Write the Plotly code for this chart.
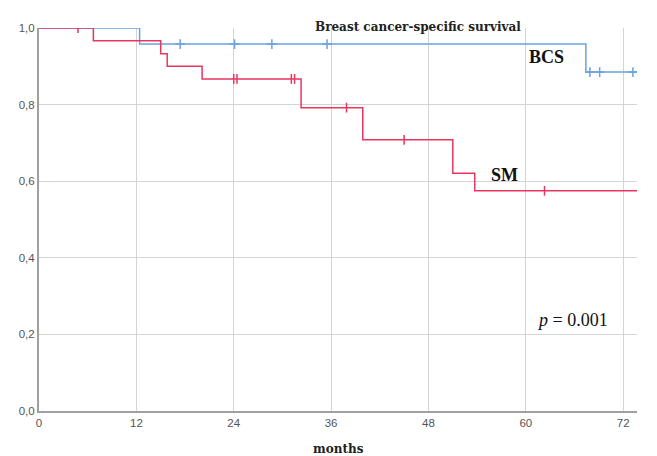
import plotly.graph_objects as go
import numpy as np

# Kaplan-Meier step data (time in months, survival probability)
bcs_times = [0, 12.4, 67.4, 73.7]
bcs_surv = [1.0, 0.958, 0.885, 0.885]
bcs_censor = [17.4, 24.1, 28.7, 35.5, 67.9, 69.1, 73.2]

sm_times = [0, 6.7, 15.0, 15.8, 20.1, 32.3, 39.9, 51.0, 53.7, 73.7]
sm_surv = [1.0, 0.967, 0.933, 0.900, 0.867, 0.792, 0.708, 0.621, 0.575, 0.575]
sm_censor = [4.8, 24.0, 24.4, 31.1, 31.5, 37.9, 45.0, 62.3]

x_ticks = [0, 12, 24, 36, 48, 60, 72]
y_ticks = [0.0, 0.2, 0.4, 0.6, 0.8, 1.0]
y_tick_labels = ["0,0", "0,2", "0,4", "0,6", "0,8", "1,0"]

BLUE = "#6aa2e0"
RED = "#e8365f"


def surv_at(times, surv, t):
    idx = np.searchsorted(np.array(times), t, side="right") - 1
    return surv[max(idx, 0)]


fig = go.Figure()

fig.add_trace(go.Scatter(x=bcs_times, y=bcs_surv, mode="lines",
                         line=dict(color=BLUE, width=1.5, shape="hv"),
                         name="BCS", showlegend=False))
fig.add_trace(go.Scatter(x=sm_times, y=sm_surv, mode="lines",
                         line=dict(color=RED, width=1.5, shape="hv"),
                         name="SM", showlegend=False))

fig.add_trace(go.Scatter(x=bcs_censor, y=[surv_at(bcs_times, bcs_surv, t) for t in bcs_censor],
                         mode="markers",
                         marker=dict(symbol="cross-thin", size=7,
                                     line=dict(color=BLUE, width=1.5)),
                         showlegend=False))
fig.add_trace(go.Scatter(x=sm_censor, y=[surv_at(sm_times, sm_surv, t) for t in sm_censor],
                         mode="markers",
                         marker=dict(symbol="line-ns", size=7,
                                     line=dict(color=RED, width=1.5)),
                         showlegend=False))

fig.update_layout(
    width=657, height=456,
    margin=dict(l=39, r=20, t=28, b=45),
    plot_bgcolor="white", paper_bgcolor="white",
    xaxis=dict(range=[0, 73.7], tickvals=x_ticks, ticktext=[str(v) for v in x_ticks],
               showgrid=True, gridcolor="#d4d4d4", gridwidth=1,
               showline=True, linecolor="#a0a0a0", linewidth=2,
               zeroline=False, ticks="", ticklen=0, automargin=False,
               tickfont=dict(family="Liberation Sans", size=11.5, color="#555555")),
    yaxis=dict(range=[0, 1.0], tickvals=y_ticks, ticktext=y_tick_labels,
               showgrid=True, gridcolor="#d4d4d4", gridwidth=1,
               showline=True, linecolor="#a0a0a0", linewidth=2,
               zeroline=False, ticks="", automargin=False,
               tickfont=dict(family="Liberation Sans", size=11.5, color="#555555")),
    annotations=[
        dict(text="<b>Breast cancer-specific survival</b>", xref="paper", yref="paper",
             x=0.633, y=1.027, showarrow=False,
             font=dict(family="DejaVu Serif", size=12, color="#222222")),
        dict(text="<b>BCS</b>", xref="x", yref="y", x=62.6, y=0.925, showarrow=False,
             font=dict(family="Liberation Serif", size=18, color="#111111")),
        dict(text="<b>SM</b>", xref="x", yref="y", x=57.4, y=0.616, showarrow=False,
             font=dict(family="Liberation Serif", size=18, color="#111111")),
        dict(text="<i>p</i> = 0.001", xref="x", yref="y", x=65.8, y=0.237, showarrow=False,
             font=dict(family="Liberation Serif", size=18, color="#111111")),
        dict(text="<b>months</b>", xref="paper", yref="paper", x=0.5, y=-0.124,
             showarrow=False,
             font=dict(family="DejaVu Serif", size=12, color="#222222")),
    ],
)

fig.write_html("out.html", config={"displayModeBar": False},
               post_script="document.body.style.margin='0px';")
